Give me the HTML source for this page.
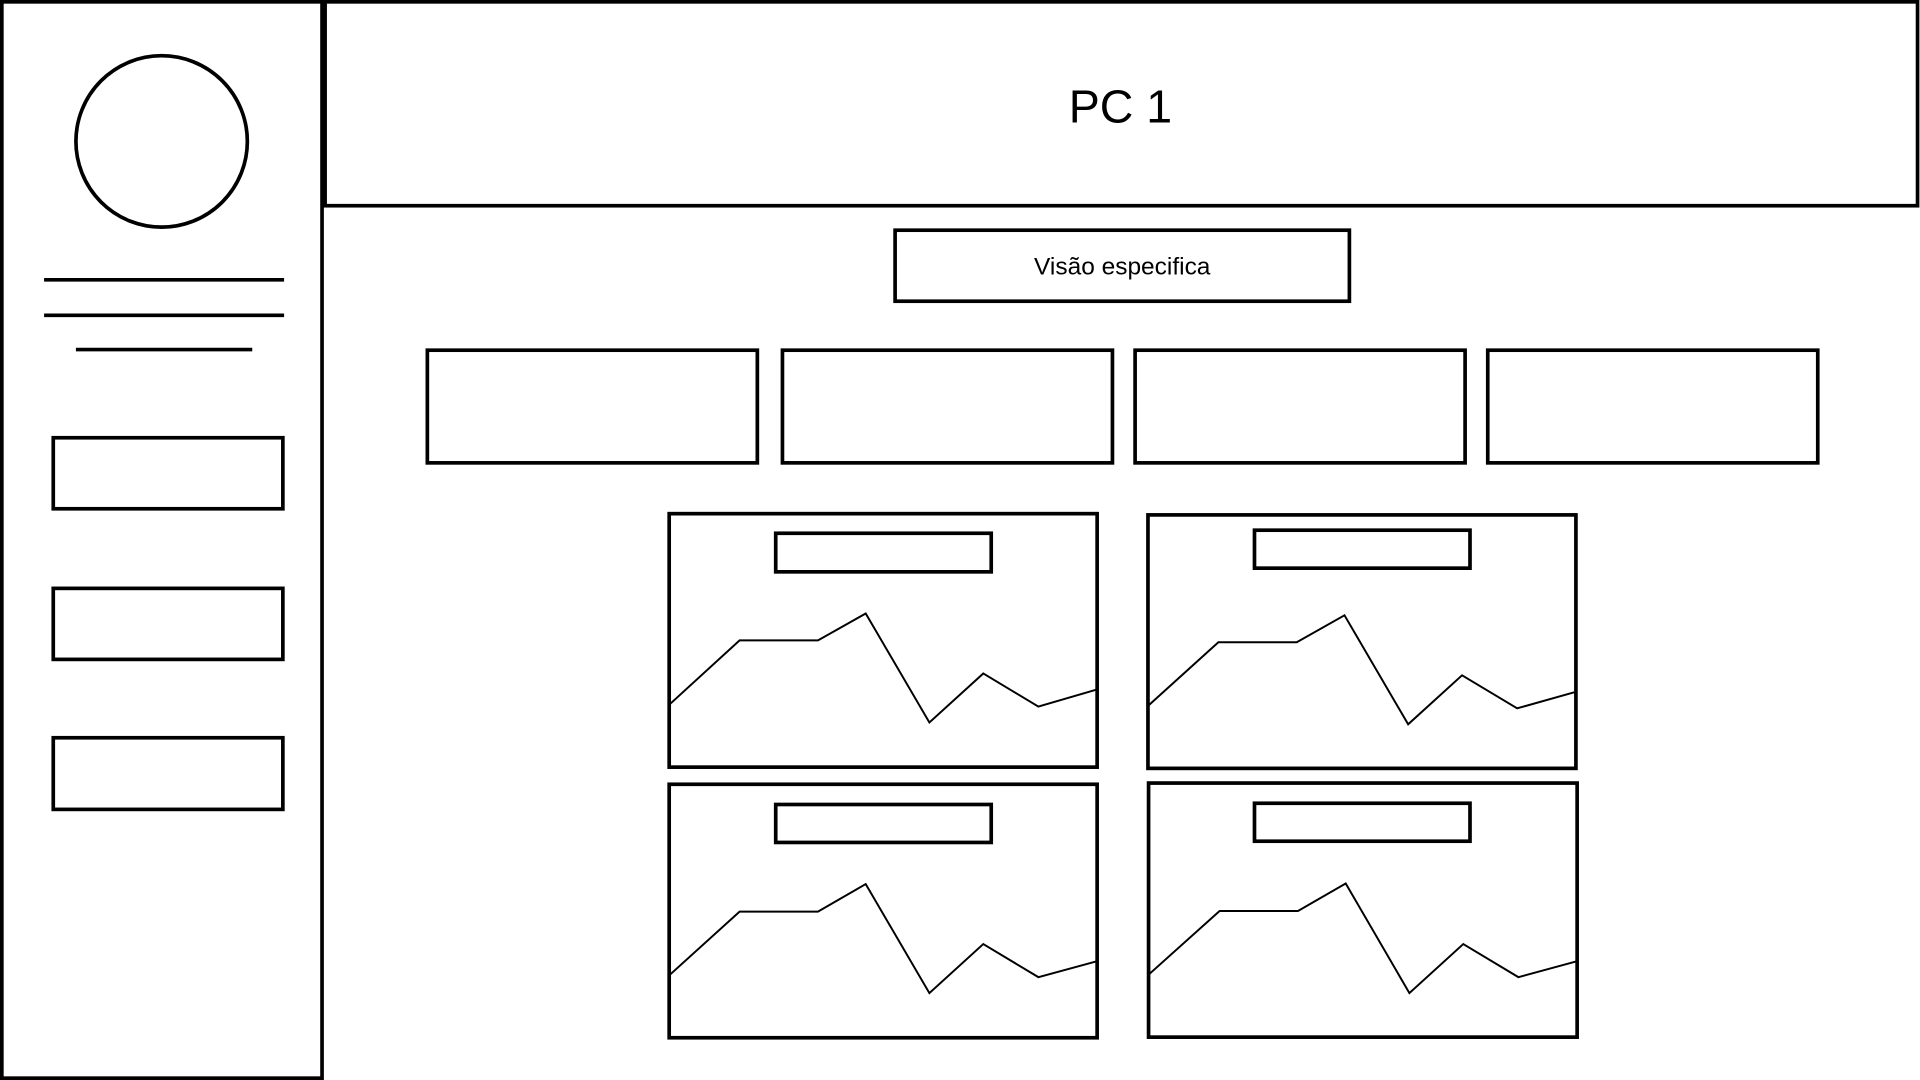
<!DOCTYPE html>
<html><head><meta charset="utf-8"><style>html,body{margin:0;padding:0;background:#fff;width:1920px;height:1080px;overflow:hidden}</style></head>
<body>
<svg width="1920" height="1080" viewBox="0 0 1568 882" preserveAspectRatio="none" xmlns="http://www.w3.org/2000/svg" style="display:block">
<g fill="none" stroke="#000" stroke-width="3">
<rect x="1.5" y="1.5" width="261.5" height="879"/>
<rect x="265.5" y="1.5" width="1300.5" height="166.5"/>
<circle cx="132" cy="115.5" r="70" stroke-width="3"/>
<line x1="36" y1="228.5" x2="232" y2="228.5"/>
<line x1="36" y1="257.5" x2="232" y2="257.5"/>
<line x1="62" y1="285.5" x2="206" y2="285.5"/>
<rect x="43.5" y="357.5" width="187.5" height="58"/>
<rect x="43.5" y="480.5" width="187.5" height="58"/>
<rect x="43.5" y="602.5" width="187.5" height="58.5"/>
<rect x="731" y="188" width="371" height="58"/>
<rect x="349" y="286" width="269.5" height="92"/>
<rect x="639" y="286" width="269.5" height="92"/>
<rect x="927" y="286" width="269.5" height="92"/>
<rect x="1215" y="286" width="269.5" height="92"/>
<rect x="546.5" y="419.5" width="349.5" height="207"/>
<rect x="633.5" y="435.5" width="176" height="31.5"/>
<rect x="937.5" y="420.5" width="349.5" height="207"/>
<rect x="1024.5" y="433" width="176" height="31"/>
<rect x="546.5" y="640.5" width="349.5" height="207"/>
<rect x="633.5" y="657" width="176" height="31"/>
<rect x="938" y="639.5" width="350" height="207.5"/>
<rect x="1024.5" y="656" width="176" height="31"/>
</g>
<g fill="none" stroke="#000" stroke-width="1.6">
<polyline points="546,576 604,523 668,523 707,501 759,590 803,550 848,577 896,563"/>
<polyline points="937,577 995,524.5 1059,524.5 1098,502.5 1150,591.5 1194,551.5 1239,578.5 1287,565"/>
<polyline points="546,797 604,744.5 668,744.5 707,722 759,811 803,771 848,798 896,785"/>
<polyline points="938,796 996,744 1060,744 1099,721.5 1151,811 1195,771 1240,798 1288,785"/>
</g>
<text x="915" y="100" font-family="Liberation Sans, DejaVu Sans, sans-serif" font-size="38" text-anchor="middle">PC 1</text>
<text x="916.5" y="224" font-family="Liberation Sans, DejaVu Sans, sans-serif" font-size="20" text-anchor="middle">Visão especifica</text>
</svg>
</body></html>
